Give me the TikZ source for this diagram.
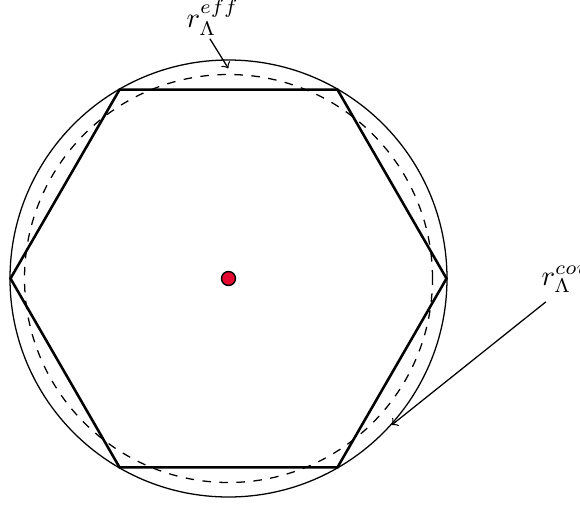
\documentclass[tikz,border=0pt]{standalone}
\usetikzlibrary{calc}
\definecolor{dotred}{RGB}{230,10,50}
\begin{document}
\begin{tikzpicture}[x=0.3528pt,y=0.3528pt,
  hexline/.style={line width=0.9pt},
  covcircle/.style={line width=0.45pt},
  effcircle/.style={line width=0.45pt,dashed},
  lbl/.style={inner sep=0pt,anchor=base west},
  pointer/.style={line width=0.45pt,->}]
\useasboundingbox (0,0) rectangle (580,504);
\coordinate (c) at (228.5,225.5);
% covering circle
\draw[covcircle] (c) circle[radius=218.5];
% effective circle
\draw[effcircle] (c) circle[radius=204];
% hexagon
\draw[hexline] ($(c)+(0:218)$) -- ($(c)+(60:218)$) -- ($(c)+(120:218)$) -- ($(c)+(180:218)$) -- ($(c)+(240:218)$) -- ($(c)+(300:218)$) -- cycle;
% centre dot
\node[circle,draw=black,fill=dotred,line width=0.5pt,minimum size=14*0.3528pt,inner sep=0pt] (dot) at (c) {};
% labels
\node[lbl] (effl) at (186,477) {$r_\Lambda^{eff}$};
\node[lbl] (covl) at (541,219) {$r_\Lambda^{cov}$};
\coordinate (effpt) at (228.3,435.7);
\coordinate (covpt) at (391.7,79);
\draw[pointer] ([xshift=-1pt,yshift=-1pt]effl.south) -- (effpt);
\draw[pointer] ([xshift=1.7pt,yshift=-3pt]covl.south west) -- (covpt);
\end{tikzpicture}
\end{document}
